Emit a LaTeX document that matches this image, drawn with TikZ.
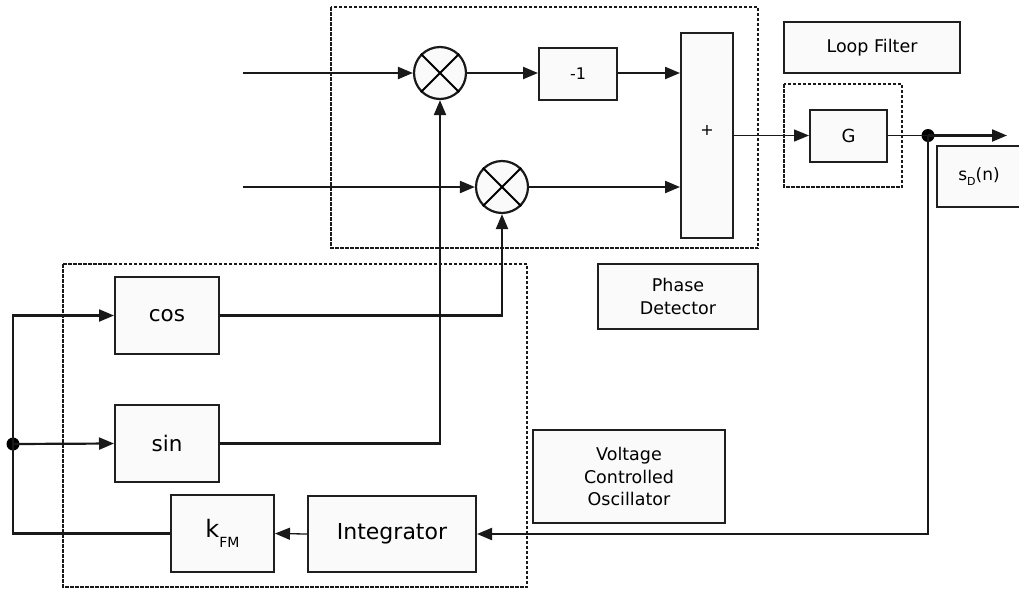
\documentclass[tikz,border=0pt]{standalone}
\usepackage{fontspec}
\setmainfont{DejaVu Sans}
\usetikzlibrary{arrows.meta}
\begin{document}
\begin{tikzpicture}[x=1pt,y=-1pt,
  blk/.style={draw=black!88, line width=2pt, fill=black!2, inner sep=0pt, align=center},
  lbl/.style={blk, line width=1.7pt, font=\fontsize{17.5}{22.7}\selectfont},
  mix/.style={circle, draw=black!90, line width=2.2pt, fill=black!2, minimum size=52pt, inner sep=0pt},
  wire/.style={line width=2.2pt, black!90},
  thinw/.style={line width=1.3pt, black!90},
  arr/.style={-{Triangle[length=15pt,width=12pt]}},
  dbox/.style={draw=black!90, line width=1.4pt, dash pattern=on 3.5pt off 1.5pt},
  jdot/.style={circle, fill=black, minimum size=13pt, inner sep=0pt}
]
\useasboundingbox (0,0) rectangle (1019,590);
\fill[white] (0,0) rectangle (1019,590);

% dashed group boxes
\draw[dbox] (331,7) rectangle (758,248);
\draw[dbox] (784,84) rectangle (902,187);
\draw[dbox] (63,264) rectangle (527,587);

% phase detector blocks
\node[mix] (m1) at (440,73) {};
\node[mix] (m2) at (502,187) {};
\draw[line width=1.8pt] (m1.north west) -- (m1.south east) (m1.north east) -- (m1.south west);
\draw[line width=1.8pt] (m2.north west) -- (m2.south east) (m2.north east) -- (m2.south west);
\node[blk, minimum width=78pt, minimum height=52pt, font=\fontsize{16}{18}\selectfont] (neg) at (578,74) {-1};
\node[blk, minimum width=52pt, minimum height=205pt, font=\fontsize{16}{18}\selectfont] (plus) at (707,135.5) {\raisebox{11pt}{+}};

% loop filter
\node[blk, minimum width=77pt, minimum height=52pt, font=\fontsize{18}{20}\selectfont] (G) at (848.5,135.5) {G};
\node[lbl, minimum width=176pt, minimum height=51pt] (lf) at (872,47.5) {Loop Filter};
\node[jdot] (j1) at (928,135.5) {};
\coordinate (out) at (1007,135.5);
\node[lbl, minimum width=84pt, minimum height=61pt, font=\fontsize{17}{20}\selectfont] (sd) at (979,176.5) {s\raisebox{-0.6ex}{\fontsize{11}{11}\selectfont D}(n)};

% labels
\node[lbl, minimum width=160pt, minimum height=65pt] (pd) at (678,296.5) {Phase\\Detector};
\node[lbl, minimum width=192pt, minimum height=93pt] (vco) at (629,476.5) {Voltage\\Controlled\\Oscillator};

% VCO blocks
\node[blk, minimum width=104pt, minimum height=77pt, font=\fontsize{21.5}{24}\selectfont] (cos) at (167,315.5) {cos};
\node[blk, minimum width=104pt, minimum height=77pt, font=\fontsize{21.5}{24}\selectfont] (sin) at (167,443.5) {sin};
\node[blk, minimum width=103pt, minimum height=77pt, font=\fontsize{24}{26}\selectfont] (kfm) at (222.5,533.5) {k\raisebox{-0.75ex}{\fontsize{14}{14}\selectfont FM}};
\node[blk, minimum width=168pt, minimum height=76pt, font=\fontsize{22}{24}\selectfont] (int) at (392,534) {Integrator};
\node[jdot] (j2) at (13,444) {};

% connectors
\coordinate (in1) at (243,73);
\coordinate (in2) at (243,187);
\draw[wire,arr] (in1) -- (m1.west);
\draw[wire,arr] (in2) -- (m2.west);
\draw[wire,arr] (m1.east) -- (neg.west |- m1.east);
\draw[wire,arr] (neg.east |- m1.east) -- (plus.west |- m1.east);
\draw[wire,arr] (m2.east) -- (plus.west |- m2.east);
\draw[thinw,arr] (plus.east) -- (G.west);
\draw[thinw] (G.east) -- (j1.center);
\draw[wire,arr] (j1.center) -- (out);
\draw[wire,arr] (j1.center) -- (j1.center |- int.east) -- (int.east);
\draw[thinw,arr] (int.west) -- (kfm.east);
\draw[wire,arr] (kfm.west) -- (kfm.west -| j2.center) -- (j2.center |- cos.west) -- (cos.west);
\draw[wire,arr] (j2.center) -- (sin.west);
\draw[wire,arr] (cos.east) -- (cos.east -| m2.south) -- (m2.south);
\draw[wire,arr] (sin.east) -- (sin.east -| m1.south) -- (m1.south);
\end{tikzpicture}
\end{document}
